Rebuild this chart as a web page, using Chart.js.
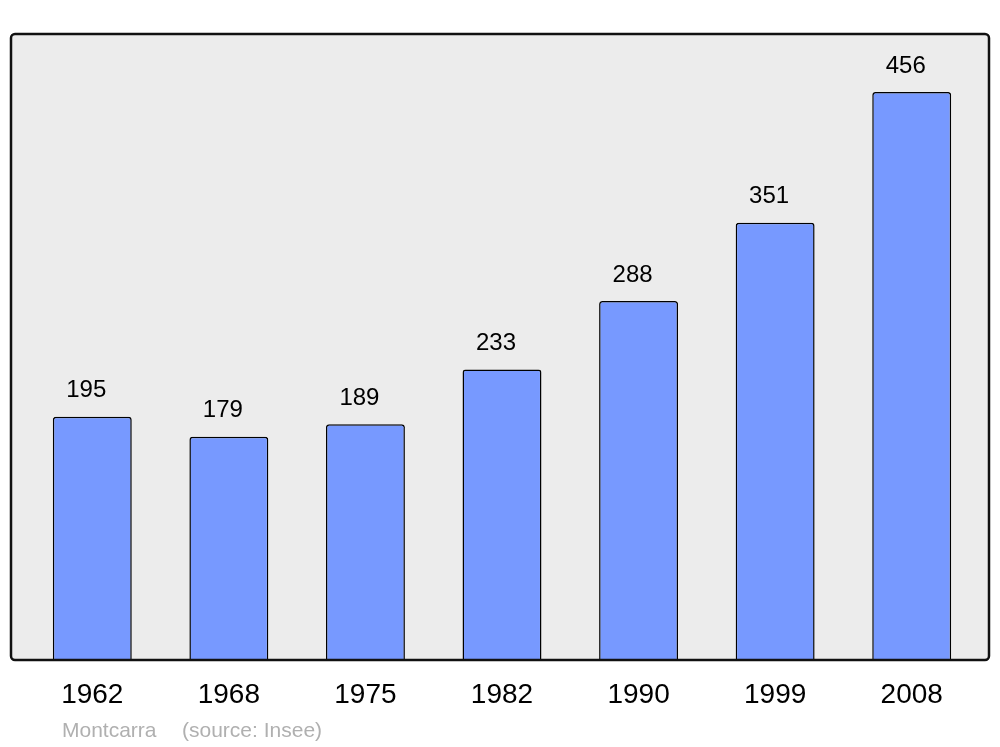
<!DOCTYPE html>
<html>
<head>
<meta charset="utf-8">
<script src="https://cdn.jsdelivr.net/npm/chart.js@4"></script>
<style>
  html, body { margin: 0; padding: 0; background: #fff; }
  #wrap { width: 1000px; height: 747px; }
</style>
</head>
<body>
<div id="wrap"><canvas id="popChart" width="1000" height="747"></canvas></div>
<script>
const years = ['1962', '1968', '1975', '1982', '1990', '1999', '2008'];
const population = [195, 179, 189, 233, 288, 351, 456];
const yMax = 502.6;

const FONT = '"Liberation Sans", Arial, sans-serif';

// gray frame behind bars, border on top of them
const framePlugin = {
    id: 'frame',
    beforeDatasetsDraw: (chart) => {
        const ctx = chart.ctx;
        ctx.save();
        ctx.beginPath();
        ctx.roundRect(11, 34, 978, 626, 4);
        ctx.fillStyle = '#ececec';
        ctx.fill();
        ctx.restore();
    },
    afterDatasetsDraw: (chart) => {
        const ctx = chart.ctx;
        ctx.save();
        ctx.beginPath();
        ctx.roundRect(11, 34, 978, 626, 4);
        ctx.lineWidth = 2.5;
        ctx.strokeStyle = '#111';
        ctx.stroke();

        // value labels above bars
        const meta = chart.getDatasetMeta(0);
        ctx.fillStyle = '#000';
        ctx.font = '24px ' + FONT;
        ctx.textAlign = 'center';
        ctx.textBaseline = 'middle';
        meta.data.forEach((bar, i) => {
            ctx.fillText(population[i], bar.x - 6, bar.y - 26);
        });

        // footer
        ctx.fillStyle = '#b0b0b0';
        ctx.font = '21px ' + FONT;
        ctx.textAlign = 'left';
        ctx.fillText('Montcarra', 62, 731);
        ctx.fillText('(source: Insee)', 182, 731);
        ctx.restore();
    }
};

new Chart(document.getElementById('popChart').getContext('2d'), {
    type: 'bar',
    data: {
        labels: years,
        datasets: [{
            data: population,
            backgroundColor: '#7799ff',
            borderColor: '#000',
            borderWidth: 1.5,
            borderRadius: { topLeft: 3, topRight: 3 },
            borderSkipped: 'bottom',
            barPercentage: 0.578,
            categoryPercentage: 1
        }]
    },
    options: {
        responsive: false,
        animation: false,
        layout: {
            padding: { left: 24, right: 20, top: 34, bottom: 16 }
        },
        plugins: {
            legend: { display: false },
            tooltip: { enabled: false }
        },
        scales: {
            x: {
                grid: { display: false, drawTicks: false },
                border: { display: false },
                ticks: {
                    color: '#000',
                    padding: 19,
                    font: { family: FONT, size: 28 }
                }
            },
            y: {
                display: false,
                min: 0,
                max: yMax
            }
        }
    },
    plugins: [framePlugin]
});
</script>
</body>
</html>
